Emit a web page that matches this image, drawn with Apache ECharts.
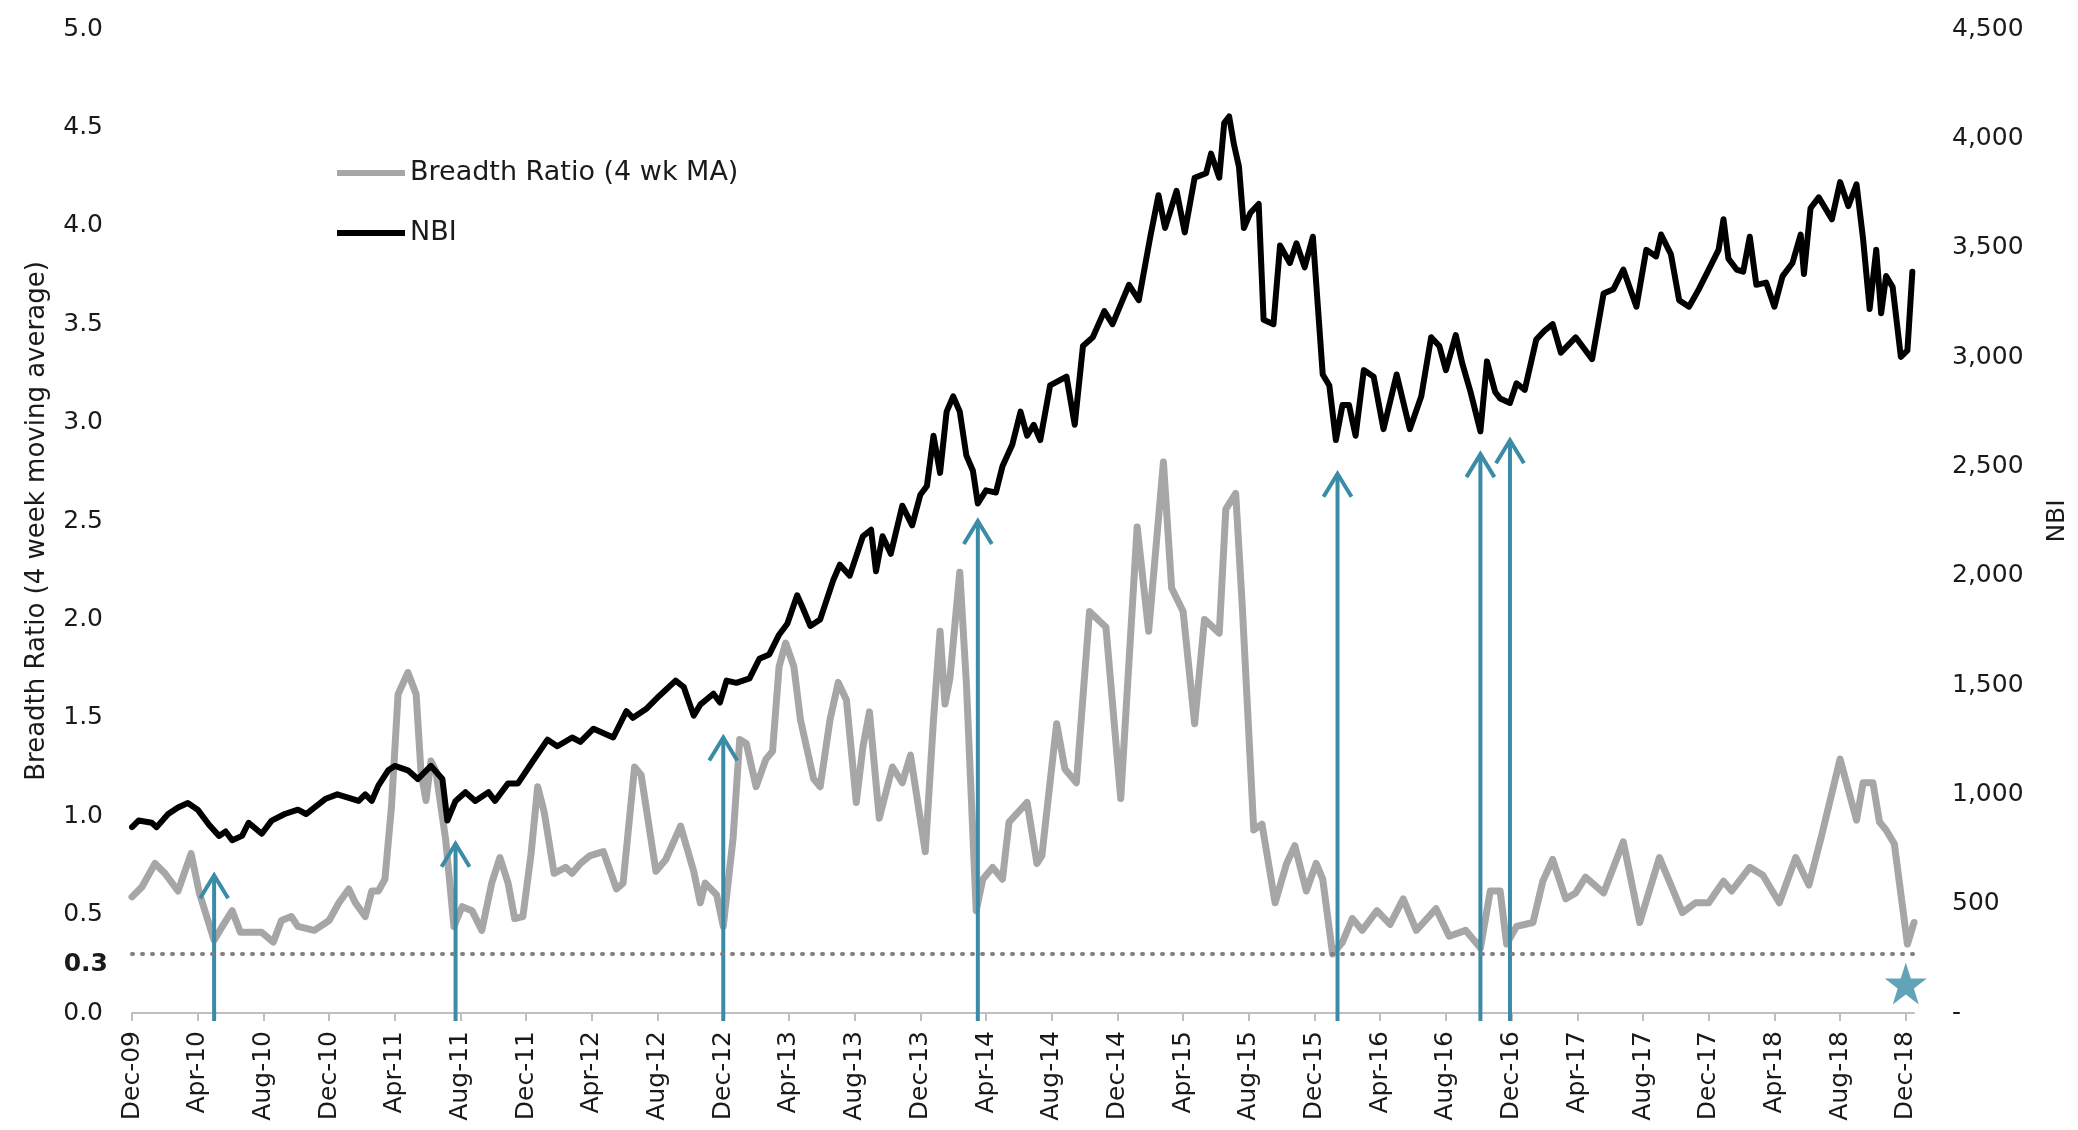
<!DOCTYPE html>
<html>
<head>
<meta charset="utf-8">
<title>Breadth Ratio vs NBI</title>
<script src="https://cdn.jsdelivr.net/npm/echarts@6.0.0/dist/echarts.min.js"></script>
<style>
  html, body { margin: 0; padding: 0; background: #fff; }
  #chart { width: 2078px; height: 1130px; }
</style>
</head>
<body>
<div id="chart"></div>
<script>
// x values are months counted from Dec-09 (0) to Dec-18 (108)
const xTickLabels = ['Dec-09', 'Apr-10', 'Aug-10', 'Dec-10', 'Apr-11', 'Aug-11', 'Dec-11',
  'Apr-12', 'Aug-12', 'Dec-12', 'Apr-13', 'Aug-13', 'Dec-13', 'Apr-14', 'Aug-14', 'Dec-14',
  'Apr-15', 'Aug-15', 'Dec-15', 'Apr-16', 'Aug-16', 'Dec-16', 'Apr-17', 'Aug-17', 'Dec-17',
  'Apr-18', 'Aug-18', 'Dec-18']

// Breadth Ratio (4 wk MA), left axis
const brMonths = [0, 0.6, 1.4, 2.0, 2.8, 3.6, 4.1, 5.0, 5.5, 6.1,
  6.6, 7.3, 7.9, 8.6, 9.1, 9.7, 10.1, 11.1, 12.0, 12.6,
  13.2, 13.6, 14.2, 14.6, 15.0, 15.4, 15.8, 16.2, 16.8, 17.3,
  17.6, 17.9, 18.2, 18.5, 19.1, 19.6, 20.1, 20.7, 21.3, 21.9,
  22.4, 22.9, 23.3, 23.8, 24.3, 24.7, 25.1, 25.7, 26.4, 26.8,
  27.3, 27.9, 28.7, 29.5, 29.9, 30.6, 31.0, 31.9, 32.5, 33.4,
  34.2, 34.6, 34.9, 35.6, 36.0, 36.6, 37.0, 37.4, 38.0, 38.6,
  39.0, 39.4, 39.8, 40.3, 40.7, 41.5, 41.9, 42.5, 43.0, 43.5,
  44.1, 44.5, 44.9, 45.5, 46.3, 46.9, 47.4, 48.3, 48.8, 49.2,
  49.5, 49.8, 50.4, 50.8, 51.4, 51.8, 52.4, 53.0, 53.4, 54.5,
  55.1, 55.4, 55.8, 56.3, 56.8, 57.5, 58.3, 59.3, 60.2, 61.2,
  61.9, 62.8, 63.3, 64.0, 64.7, 65.3, 66.2, 66.6, 67.2, 67.6,
  68.3, 68.8, 69.6, 70.3, 70.8, 71.5, 72.1, 72.5, 73.1, 73.7,
  74.3, 74.9, 75.8, 76.6, 77.4, 78.2, 79.4, 80.2, 81.2, 82.1,
  82.7, 83.3, 83.7, 84.3, 85.3, 85.9, 86.5, 87.3, 87.9, 88.5,
  89.6, 90.8, 91.8, 93.0, 94.4, 95.2, 96.0, 96.9, 97.4, 98.5,
  99.3, 100.3, 101.3, 102.1, 102.9, 104.0, 105.0, 105.4, 106.0, 106.4,
  106.8, 107.3, 108.1, 108.5]
const brValues = [0.59, 0.64, 0.76, 0.71, 0.62, 0.81, 0.61, 0.37, 0.44, 0.52,
  0.41, 0.41, 0.41, 0.36, 0.47, 0.49, 0.44, 0.42, 0.47, 0.56,
  0.63, 0.56, 0.49, 0.62, 0.62, 0.68, 1.05, 1.62, 1.73, 1.62,
  1.22, 1.08, 1.28, 1.23, 0.88, 0.44, 0.54, 0.52, 0.42, 0.66,
  0.79, 0.66, 0.48, 0.49, 0.81, 1.15, 1.02, 0.71, 0.74, 0.71,
  0.76, 0.80, 0.82, 0.63, 0.66, 1.25, 1.21, 0.72, 0.78, 0.95,
  0.72, 0.56, 0.66, 0.60, 0.44, 0.89, 1.39, 1.37, 1.15, 1.29,
  1.33, 1.76, 1.88, 1.76, 1.49, 1.19, 1.15, 1.49, 1.68, 1.59,
  1.07, 1.35, 1.53, 0.99, 1.25, 1.17, 1.31, 0.82, 1.49, 1.94,
  1.57, 1.70, 2.24, 1.68, 0.52, 0.68, 0.74, 0.68, 0.97, 1.07,
  0.76, 0.80, 1.10, 1.47, 1.24, 1.17, 2.04, 1.96, 1.09, 2.47,
  1.94, 2.80, 2.16, 2.04, 1.47, 2.00, 1.93, 2.56, 2.64, 2.07,
  0.93, 0.96, 0.56, 0.76, 0.85, 0.62, 0.76, 0.68, 0.30, 0.36,
  0.48, 0.42, 0.52, 0.45, 0.58, 0.42, 0.53, 0.39, 0.42, 0.33,
  0.62, 0.62, 0.35, 0.44, 0.46, 0.67, 0.78, 0.58, 0.61, 0.69,
  0.61, 0.87, 0.46, 0.79, 0.51, 0.56, 0.56, 0.67, 0.62, 0.74,
  0.70, 0.56, 0.79, 0.65, 0.91, 1.29, 0.98, 1.17, 1.17, 0.97,
  0.93, 0.86, 0.35, 0.46]

// NBI, right axis
const nbiMonths = [0, 0.4, 1.2, 1.5, 2.2, 2.8, 3.4, 4.0, 4.7, 5.3,
  5.7, 6.1, 6.7, 7.1, 7.9, 8.5, 9.3, 10.1, 10.6, 11.8,
  12.5, 13.8, 14.2, 14.6, 15.0, 15.6, 16.0, 16.8, 17.4, 18.2,
  18.9, 19.2, 19.7, 20.3, 20.9, 21.7, 22.1, 22.9, 23.5, 24.3,
  25.3, 25.9, 26.8, 27.3, 28.1, 29.3, 30.1, 30.5, 31.3, 32.1,
  33.1, 33.6, 34.2, 34.6, 35.4, 35.8, 36.2, 36.8, 37.6, 38.2,
  38.8, 39.4, 39.9, 40.5, 40.8, 41.3, 41.9, 42.7, 43.1, 43.7,
  44.5, 45.0, 45.3, 45.7, 46.2, 46.9, 47.5, 48.0, 48.4, 48.8,
  49.2, 49.6, 50.0, 50.4, 50.8, 51.2, 51.5, 52.0, 52.6, 53.0,
  53.6, 54.1, 54.5, 54.9, 55.3, 55.9, 56.9, 57.4, 57.9, 58.5,
  59.2, 59.7, 60.7, 61.3, 62.0, 62.5, 62.9, 63.6, 64.1, 64.7,
  65.4, 65.7, 66.2, 66.5, 66.8, 67.1, 67.4, 67.7, 68.1, 68.6,
  68.9, 69.5, 69.9, 70.5, 70.9, 71.4, 71.9, 72.5, 72.9, 73.3,
  73.7, 74.1, 74.5, 75.0, 75.6, 76.2, 77.0, 77.8, 78.5, 79.1,
  79.6, 80.0, 80.6, 81.0, 81.5, 82.1, 82.5, 83.0, 83.3, 83.9,
  84.3, 84.8, 85.5, 86.0, 86.5, 87.0, 87.9, 88.9, 89.6, 90.2,
  90.8, 91.6, 92.2, 92.8, 93.1, 93.7, 94.2, 94.8, 95.4, 96.0,
  96.6, 96.9, 97.2, 97.7, 98.1, 98.5, 98.9, 99.5, 100.0, 100.5,
  101.1, 101.6, 101.8, 102.2, 102.7, 103.5, 104.0, 104.5, 105.0, 105.4,
  105.8, 106.2, 106.5, 106.8, 107.2, 107.7, 108.1, 108.4]
const nbiValues = [850, 880, 870, 850, 910, 940, 960, 930, 860, 810,
  830, 790, 810, 870, 820, 880, 910, 930, 910, 980,
  1000, 970, 1000, 970, 1040, 1110, 1130, 1110, 1070, 1130,
  1070, 880, 970, 1010, 970, 1010, 970, 1050, 1050, 1140,
  1250, 1220, 1260, 1240, 1300, 1260, 1380, 1350, 1390, 1450,
  1520, 1490, 1360, 1410, 1460, 1420, 1520, 1510, 1530, 1620,
  1640, 1730, 1780, 1910, 1860, 1770, 1800, 1980, 2050, 2000,
  2180, 2210, 2020, 2180, 2100, 2320, 2230, 2370, 2410, 2640,
  2470, 2750, 2820, 2750, 2550, 2480, 2330, 2390, 2380, 2500,
  2600, 2750, 2640, 2690, 2620, 2870, 2910, 2690, 3050, 3090,
  3210, 3150, 3330, 3260, 3550, 3740, 3590, 3760, 3570, 3820,
  3840, 3930, 3820, 4070, 4100, 3970, 3870, 3590, 3660, 3700,
  3170, 3150, 3510, 3430, 3520, 3410, 3550, 2920, 2870, 2620,
  2780, 2780, 2640, 2940, 2910, 2670, 2920, 2670, 2820, 3090,
  3050, 2940, 3100, 2970, 2840, 2660, 2980, 2840, 2810, 2790,
  2880, 2850, 3080, 3120, 3150, 3020, 3090, 2990, 3290, 3310,
  3400, 3230, 3490, 3460, 3560, 3470, 3260, 3230, 3310, 3400,
  3490, 3630, 3450, 3400, 3390, 3550, 3330, 3340, 3230, 3370,
  3430, 3560, 3380, 3680, 3730, 3630, 3800, 3690, 3790, 3540,
  3220, 3490, 3200, 3370, 3320, 3000, 3030, 3390]

// annotations (left-axis units)
const threshold = 0.3
const arrowMonths = [5.0, 19.7, 36.0, 51.5, 73.4, 82.1, 83.9]
const arrowTips = [0.70, 0.86, 1.40, 2.50, 2.74, 2.84, 2.91]
const starMonth = 108
const starValue = 0.15

const TEAL = '#3a8ca6'
const FONT = 'DejaVu Sans'
const tickMonths = xTickLabels.map(function (_, i) { return i * 4 })

const chart = echarts.init(document.getElementById('chart'))

const option = {
  animation: false,
  backgroundColor: '#fff',
  grid: { left: 132, right: 164, top: 29, bottom: 117 },
  legend: {
    orient: 'vertical',
    left: 332,
    top: 154,
    itemGap: 32,
    itemWidth: 68,
    itemHeight: 6,
    icon: 'rect',
    textStyle: { fontFamily: FONT, fontSize: 27, color: '#1a1a1a', lineHeight: 28 },
    data: ['Breadth Ratio (4 wk MA)', 'NBI']
  },
  xAxis: {
    type: 'value',
    min: 0,
    max: 108.5,
    interval: 4,
    splitLine: { show: false },
    axisLine: { show: true, lineStyle: { color: '#bfbfbf', width: 2 } },
    axisTick: { show: true, length: 8, customValues: tickMonths, lineStyle: { color: '#bfbfbf', width: 2 } },
    axisLabel: {
      customValues: tickMonths,
      rotate: 90,
      margin: 18,
      fontFamily: FONT,
      fontSize: 25,
      color: '#1a1a1a',
      formatter: function (v) { return xTickLabels[Math.round(v / 4)] || '' }
    }
  },
  yAxis: [{
    type: 'value',
    position: 'left',
    min: 0,
    max: 5,
    interval: 0.5,
    splitLine: { show: false },
    axisLine: { show: false },
    axisTick: { show: false },
    axisLabel: {
      margin: 29,
      fontFamily: FONT,
      fontSize: 25,
      color: '#1a1a1a',
      formatter: function (v) { return v.toFixed(1) }
    },
    name: 'Breadth Ratio (4 week moving average)',
    nameLocation: 'middle',
    nameRotate: 90,
    nameGap: 82,
    nameTextStyle: { fontFamily: FONT, fontSize: 26, color: '#1a1a1a' }
  }, {
    type: 'value',
    position: 'right',
    min: 0,
    max: 4500,
    interval: 500,
    splitLine: { show: false },
    axisLine: { show: false },
    axisTick: { show: false },
    axisLabel: {
      margin: 38,
      align: 'left',
      fontFamily: FONT,
      fontSize: 25,
      color: '#1a1a1a',
      formatter: function (v) { return v === 0 ? '-' : v.toLocaleString('en-US') }
    },
    name: 'NBI',
    nameLocation: 'middle',
    nameRotate: 90,
    nameGap: 131,
    nameTextStyle: { fontFamily: FONT, fontSize: 25, color: '#1a1a1a' }
  }],
  series: [{
    name: 'Breadth Ratio (4 wk MA)',
    type: 'line',
    yAxisIndex: 0,
    symbol: 'none',
    color: '#a6a6a6',
    lineStyle: { color: '#a6a6a6', width: 7, join: 'round', cap: 'round' },
    z: 2,
    data: brMonths.map(function (m, i) { return [m, brValues[i]] }),
    markLine: {
      silent: true,
      symbol: ['none', 'none'],
      lineStyle: { color: '#7f7f7f', width: 4, type: [1, 9], cap: 'round' },
      label: {
        show: true,
        position: 'start',
        distance: 24,
        offset: [0, 11],
        formatter: '0.3',
        fontFamily: FONT,
        fontSize: 25,
        fontWeight: 'bold',
        color: '#1a1a1a'
      },
      data: [{ yAxis: threshold }]
    }
  }, {
    name: 'NBI',
    type: 'line',
    yAxisIndex: 1,
    symbol: 'none',
    color: '#000',
    lineStyle: { color: '#000', width: 6, join: 'round', cap: 'round' },
    z: 3,
    data: nbiMonths.map(function (m, i) { return [m, nbiValues[i]] })
  }, {
    // upward arrows marking the breadth lows
    type: 'custom',
    yAxisIndex: 0,
    silent: true,
    z: 4,
    data: arrowMonths.map(function (m, i) { return [m, arrowTips[i]] }),
    renderItem: function (params, api) {
      const tip = api.coord([api.value(0), api.value(1)])
      const base = api.coord([api.value(0), 0])
      const hw = 14
      const hh = 23
      return {
        type: 'group',
        children: [{
          type: 'line',
          shape: { x1: tip[0], y1: base[1] + 8, x2: tip[0], y2: tip[1] },
          style: { stroke: TEAL, lineWidth: 4 }
        }, {
          type: 'polyline',
          shape: { points: [[tip[0] - hw, tip[1] + hh], [tip[0], tip[1]], [tip[0] + hw, tip[1] + hh]] },
          style: { stroke: TEAL, lineWidth: 4, fill: null }
        }]
      }
    }
  }, {
    type: 'scatter',
    yAxisIndex: 0,
    silent: true,
    z: 5,
    symbol: 'path://M50,2 L61.8,37.6 L99,37.6 L68.9,59.6 L80.4,95.1 L50,73.2 L19.6,95.1 L31.1,59.6 L1,37.6 L38.2,37.6 Z',
    symbolSize: 42,
    itemStyle: { color: TEAL },
    data: [[starMonth, starValue]]
  }]
}

chart.setOption(option)
</script>
</body>
</html>
